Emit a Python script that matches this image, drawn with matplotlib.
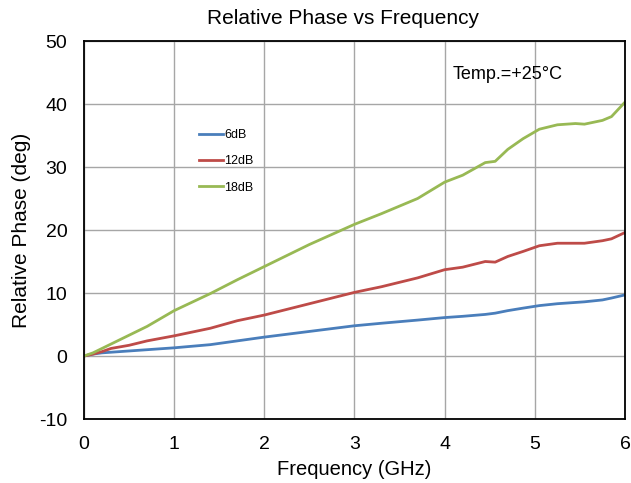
import matplotlib
matplotlib.use("Agg")
import matplotlib.pyplot as plt

plt.rcParams['font.family'] = ['Liberation Sans', 'DejaVu Sans']
plt.rcParams['axes.unicode_minus'] = False

freq = [0, 0.1, 0.2, 0.3, 0.5, 0.7, 1.0, 1.4, 1.7, 2.0, 2.5, 3.0, 3.3, 3.7, 4.0,
        4.2, 4.45, 4.56, 4.7, 4.87, 5.05, 5.25, 5.45, 5.55, 5.75, 5.85, 6.0]
phase_18db = [0, 0.5, 1.2, 1.9, 3.3, 4.7, 7.2, 9.9, 12.1, 14.2, 17.7, 20.9, 22.6, 25.0, 27.6,
              28.7, 30.7, 30.9, 32.8, 34.5, 36.0, 36.7, 36.9, 36.8, 37.4, 38.0, 40.3]
phase_12db = [0, 0.3, 0.7, 1.2, 1.7, 2.4, 3.2, 4.4, 5.6, 6.5, 8.3, 10.1, 11.0, 12.4, 13.7,
              14.1, 15.0, 14.9, 15.8, 16.6, 17.5, 17.9, 17.9, 17.9, 18.3, 18.6, 19.6]
phase_6db = [0, 0.3, 0.5, 0.6, 0.8, 1.0, 1.3, 1.8, 2.4, 3.0, 3.9, 4.8, 5.2, 5.7, 6.1,
             6.3, 6.6, 6.8, 7.2, 7.6, 8.0, 8.3, 8.5, 8.6, 8.9, 9.2, 9.7]

fig = plt.figure(figsize=(6.31, 4.83), dpi=100)
ax = fig.add_axes([0.1331, 0.1325, 0.8574, 0.7826])

ax.plot(freq, phase_6db, color='#4a7ebb', lw=2.0, label='6dB')
ax.plot(freq, phase_12db, color='#be4b48', lw=2.0, label='12dB')
ax.plot(freq, phase_18db, color='#98b954', lw=2.0, label='18dB')

ax.set_xlim(0, 6)
ax.set_ylim(-10, 50)
ax.set_xticks(range(0, 7))
ax.set_yticks(range(-10, 51, 10))
ax.grid(True, color='#a6a6a6', lw=1.0)
ax.set_axisbelow(True)
ax.tick_params(length=0, labelsize=14)
ax.tick_params(axis='y', pad=12)
ax.tick_params(axis='x', pad=12)
for s in ax.spines.values():
    s.set_color('black')
    s.set_linewidth(1.3)

fig.text(343/631, 1 - 19/483, 'Relative Phase vs Frequency', fontsize=15,
         ha='center', va='center')
ax.set_xlabel('Frequency (GHz)', fontsize=14.5, labelpad=5)
ax.set_ylabel('Relative Phase (deg)', fontsize=15, labelpad=6)

ax.text(4.09, 44.7, 'Temp.=+25°C', fontsize=13, va='center', ha='left')

leg = ax.legend(loc='upper left', bbox_to_anchor=(199/631, 1 - 129/483),
                bbox_transform=fig.transFigure, frameon=False, fontsize=9,
                handlelength=1.9, handletextpad=0.1, labelspacing=1.15,
                borderpad=0, borderaxespad=0)

fig.savefig('out.png', dpi=100)
